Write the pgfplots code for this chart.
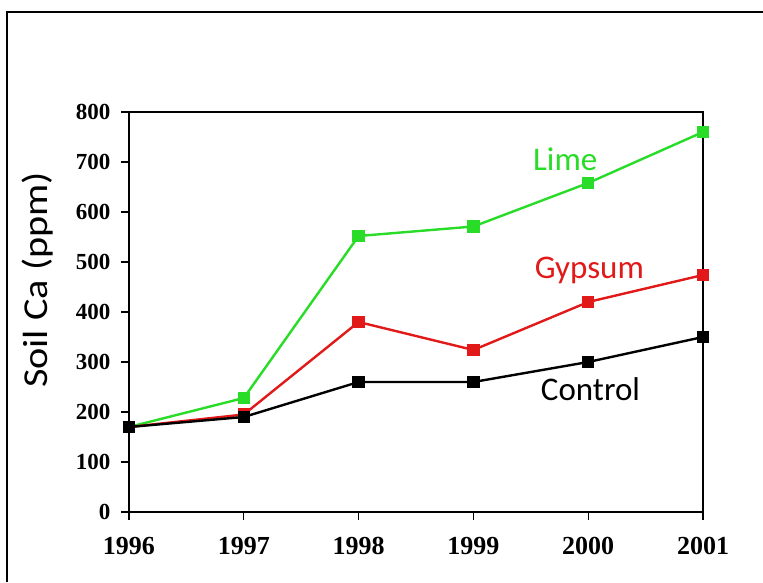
\documentclass[border=0pt]{standalone}
\usepackage{fontspec}
\setmainfont{Liberation Serif}
\newfontfamily\calib{Carlito}
\usepackage{pgfplots}
\pgfplotsset{compat=1.18}
\definecolor{limegreen}{RGB}{40,220,40}
\definecolor{gypred}{RGB}{225,25,25}
\begin{document}
\begin{tikzpicture}[x=1pt,y=1pt]
\useasboundingbox (0,0) rectangle (763,582);
\draw[line width=2pt] (7,0) -- (7,570) -- (763,570);
\begin{axis}[
  at={(129pt,70pt)}, anchor=south west,
  width=574pt, height=400pt, scale only axis,
  xmin=1996, xmax=2001, ymin=0, ymax=800,
  xtick={1996,1997,1998,1999,2000,2001},
  ytick={0,100,...,800},
  /pgf/number format/1000 sep={},
  /pgf/number format/assume math mode=true,
  tick align=outside, xtick pos=bottom, ytick pos=left,
  major tick length=8pt,
  tick style={black, line width=1.2pt},
  axis line style={line width=2.2pt},
  xticklabel style={font=\fontsize{26}{30}\selectfont\bfseries, yshift=-14pt},
  yticklabel style={font=\fontsize{23}{27}\selectfont\bfseries, xshift=-7pt},
  ylabel={\scalebox{1.15}[1]{\calib\fontsize{35}{40}\selectfont Soil Ca (ppm)}},
  every axis y label/.append style={at={(axis description cs:-0.16,0.58)}, anchor=center, rotate=0},
  clip=false,
]
\addplot[color=limegreen, line width=2.4pt, mark=square*, mark size=5pt, mark options={solid}] coordinates {
  (1996,170) (1997,228) (1998,552) (1999,571) (2000,658) (2001,760)};
\addplot[color=gypred, line width=2.4pt, mark=square*, mark size=5pt] coordinates {
  (1996,170) (1997,195) (1998,380) (1999,324) (2000,420) (2001,474)};
\addplot[color=black, line width=2.4pt, mark=square*, mark size=5pt] coordinates {
  (1996,170) (1997,190) (1998,260) (1999,260) (2000,300) (2001,350)};
\node[text=limegreen, font=\calib\fontsize{33}{38}\selectfont] at (axis cs:1999.80,706) {Lime};
\node[text=gypred, font=\calib\fontsize{33}{38}\selectfont] at (axis cs:2000.01,484) {Gypsum};
\node[text=black, font=\calib\fontsize{33}{38}\selectfont] at (axis cs:2000.02,246) {Control};
\end{axis}
\end{tikzpicture}
\end{document}
